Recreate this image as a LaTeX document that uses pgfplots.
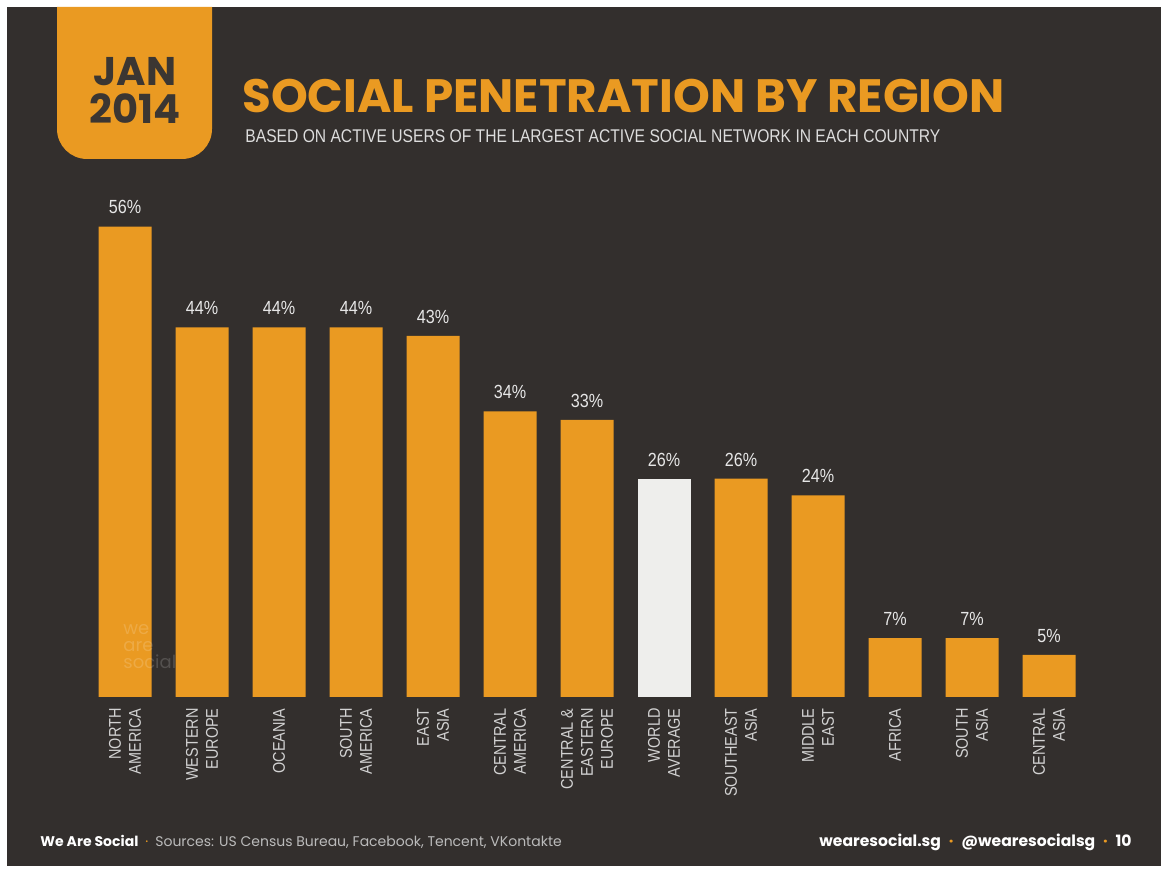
\documentclass[border=0pt]{standalone}
\usepackage{fontspec}
\usepackage{pgfplots}
\pgfplotsset{compat=1.18}
\setmainfont{Liberation Sans}
\newfontfamily\pop{Poppins}
\newfontfamily\cond[FakeStretch=0.85]{Liberation Sans}

\definecolor{bg}{HTML}{332F2D}
\definecolor{org}{HTML}{EA9A22}
\definecolor{world}{HTML}{EEEEEC}
\definecolor{lbl}{HTML}{E6E6E6}
\definecolor{tick}{HTML}{D2D2D2}
\definecolor{sub}{HTML}{DDDDDD}
\definecolor{badge}{HTML}{3B3632}
\definecolor{foot}{HTML}{BBBBBB}

\begin{document}
\begin{tikzpicture}[x=0.5pt,y=0.5pt]
\useasboundingbox (0,0) rectangle (1161,870);
\fill[white] (0,0) rectangle (1161,870);
\fill[bg] (7,4) rectangle (1161,863);

% date badge
\fill[org] (57,863) [rounded corners=15pt] -- (57,711) -- (212,711) [sharp corners] -- (212,863) -- cycle;
\node[anchor=base, inner sep=0pt, text=badge, font=\pop\bfseries\fontsize{20}{20}\selectfont] at (135,784) {JAN};
\node[anchor=base, inner sep=0pt, text=badge, font=\pop\bfseries\fontsize{20}{20}\selectfont] at (135,746) {2014};

% titles
\node[anchor=base west, inner sep=0pt, text depth=0pt, text=org, font=\pop\bfseries\fontsize{23.4}{24}\selectfont] at (242,757) {SOCIAL PENETRATION BY REGION};
\node[anchor=base west, inner sep=0pt, text height=6.5pt, text=sub, font=\cond\fontsize{9.2}{10}\selectfont] at (245,727) {BASED ON ACTIVE USERS OF THE LARGEST ACTIVE SOCIAL NETWORK IN EACH COUNTRY};

\begin{axis}[
    at={(43.25pt,86.5pt)}, anchor=south west,
    scale only axis,
    width=500.5pt, height=252pt,
    xmin=-0.5, xmax=12.5,
    ymin=0, ymax=60,
    axis line style={draw=none},
    tick style={draw=none},
    ytick=\empty,
    xtick={0,...,12},
    xticklabels={{NORTH\\AMERICA},{WESTERN\\EUROPE},{OCEANIA},{SOUTH\\AMERICA},{EAST\\ASIA},{CENTRAL\\AMERICA},{CENTRAL \&\\EASTERN\\EUROPE},{WORLD\\AVERAGE},{SOUTHEAST\\ASIA},{MIDDLE\\EAST},{AFRICA},{SOUTH\\ASIA},{CENTRAL\\ASIA}},
    xticklabel style={rotate=90, anchor=east, align=right, text=tick,
        font=\cond\fontsize{8.5}{10}\selectfont, inner xsep=5.5pt, inner ysep=0pt},
    clip=false,
    point meta=y,
    /pgf/number format/assume math mode=true,
    nodes near coords={\pgfmathprintnumber{\pgfplotspointmeta}\%},
    every node near coord/.append style={anchor=south, inner sep=0pt, yshift=6pt,
        text=lbl, font=\cond\fontsize{9.5}{10}\selectfont},
]
\addplot[ybar, bar width=26.5pt, bar shift=0pt, fill=org, draw=none] coordinates {
    (0,56) (1,44) (2,44) (3,44) (4,43) (5,34) (6,33)
    (8,26) (9,24) (10,7) (11,7) (12,5)};
\addplot[ybar, bar width=26.5pt, bar shift=0pt, fill=world, draw=none] coordinates {(7,26)};
\end{axis}

% watermark
\node[anchor=north west, align=left, inner sep=0pt, text=white, opacity=0.16,
    font=\pop\fontsize{9}{8.5}\selectfont] at (123,246) {we\\are\\social};

% footer
\node[anchor=base west, inner sep=0pt, font=\pop\fontsize{7}{8}\selectfont] at (40,23)
    {\textcolor{white}{\bfseries We Are Social}\enspace\textcolor{org}{·}\enspace\textcolor{foot}{Sources: US Census Bureau, Facebook, Tencent, VKontakte}};
\node[anchor=base east, inner sep=0pt, font=\pop\bfseries\fontsize{7.8}{8}\selectfont, text=white] at (1132,23)
    {wearesocial.sg\enspace\textcolor{org}{·}\enspace@wearesocialsg\enspace\textcolor{org}{·}\enspace10};
\end{tikzpicture}
\end{document}
